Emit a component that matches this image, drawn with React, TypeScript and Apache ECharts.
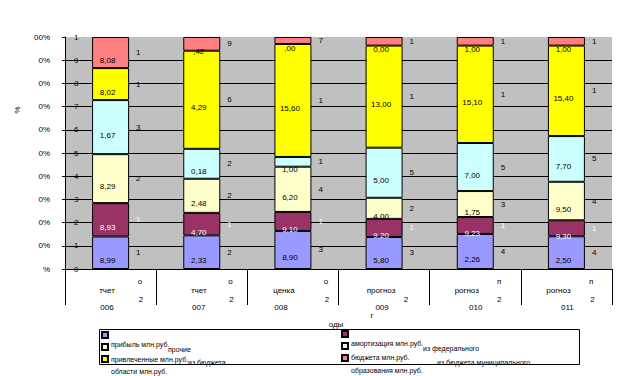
import React, { useEffect, useRef } from 'react';
import * as echarts from 'echarts';

const FONT = '"Liberation Sans", Arial, sans-serif';

// Categories (full meaning) and the fragments actually shown under each bar
const categories = ['отчет 2006', 'отчет 2007', 'оценка 2008', 'прогноз 2009', 'прогноз 2010', 'прогноз 2011'];
const catNameText = ['тчет', 'тчет', 'ценка', 'прогноз', 'рогноз', 'рогноз'];
const catYearText = ['006', '007', '008', '009', '010', '011'];
const catTopText = ['о', 'о', 'о', ' ', 'п', 'п'];
const catMidText = ['2', '2', '2', '2', '2', '2'];

// Series names (bottom to top)
const seriesNames = [
  'прибыль млн.руб.',
  'амортизация млн.руб.',
  'привлеченные млн.руб.',
  'из федерального бюджета млн.руб.',
  'из бюджета области млн.руб.',
  'из бюджета муниципального образования млн.руб.',
];

// Shares, % of each bar
const profit = [14.0, 14.5, 16.4, 13.8, 15.1, 14.1];
const amortization = [14.4, 9.7, 8.2, 7.8, 7.3, 6.9];
const attracted = [21.1, 14.7, 19.5, 9.1, 11.2, 16.6];
const federal = [23.3, 12.9, 4.2, 21.6, 20.7, 19.7];
const regional = [13.8, 42.3, 48.7, 44.0, 42.0, 39.0];
const municipal = [13.4, 5.9, 3.0, 3.7, 3.7, 3.7];

// Label texts shown inside the segments
const profitLbl = ['8,99', '2,33', '8,90', '5,80', '2,26', '2,50'];
const amortizationLbl = ['8,93', '4,70', '9,10', '9,20', '9,23', '9,30'];
const attractedLbl = ['8,29', '2,48', '6,20', '4,00', '1,75', '9,50'];
const federalLbl = ['1,67', '0,18', '1,00', '5,00', '7,00', '7,70'];
const regionalLbl = ['8,02', '4,29', '15,60', '13,00', '15,10', '15,40'];
const municipalLbl = ['8,08', ',42', ',00', '0,00', '1,00', '1,00'];

// Label texts shown to the right of the segments
const profitR = ['1', '2', '3', '3', '4', '4'];
const amortizationR = ['1', '1', '1', '1', '1', '1'];
const attractedR = ['2', '2', '4', '2', '3', '4'];
const federalR = ['3', '2', '1', '5', '5', '5'];
const regionalR = ['1', '6', '1', '1', '1', '1'];
const municipalR = ['1', '9', '7', '1', '1', '1'];

// Y tick labels (value 0..100 step 10)
const yOuterLabels = ['%', '0%', '0%', '0%', '0%', '0%', '0%', '0%', '0%', '0%', '00%'];
const yInnerLabels = ['0', '1', '2', '3', '4', '5', '6', '7', '8', '9', '1'];

// Legend texts (as displayed)
const legendTexts = [
  'прибыль млн.руб.',
  'прочие',
  'привлеченные млн.руб.',
  'из бюджета',
  'области млн.руб.',
  'амортизация млн.руб.',
  'из федерального',
  'бюджета млн.руб.',
  'из бюджета муниципального',
  'образования млн.руб.',
];

// ---- layout constants ----
const legendTextPos = [
  [111, 344], [168, 349], [111, 359], [188, 362], [111, 371],
  [351, 343], [423, 348], [351, 357], [437, 362], [351, 370],
];
const nameDx = [-3.6, -3, -9, -3, -8.5, -8];
const yearDx = [-3.6, -3, -12, -2, 0.5, 1];
const topDx = [29.4, 28.7, 33, 0, 24, 24.7];
const midDx = [30.4, 29.7, 34, 22, 24, 26];

const colors = ['#9999FF', '#993366', '#FFFFCC', '#CCFFFF', '#FFFF00', '#FF8080'];

const values = [profit, amortization, attracted, federal, regional, municipal];
const innerLabels = [profitLbl, amortizationLbl, attractedLbl, federalLbl, regionalLbl, municipalLbl];
const rightLabels = [profitR, amortizationR, attractedR, federalR, regionalR, municipalR];

function pad(d: number) {
  return d >= 0 ? [0, 0, 0, 2 * d] : [0, -2 * d, 0, 0];
}

function buildOption() {
  const richA: any = {};
  const richB: any = {};
  for (let i = 0; i < categories.length; i++) {
    richA['n' + i] = { fontSize: 8, fontFamily: FONT, color: '#000', lineHeight: 17, padding: pad(nameDx[i]) };
    richA['y' + i] = { fontSize: 8, fontFamily: FONT, color: '#000', lineHeight: 17, padding: pad(yearDx[i]) };
    richB['t' + i] = { fontSize: 8, fontFamily: FONT, color: '#000', lineHeight: 18, padding: pad(topDx[i]) };
    richB['m' + i] = { fontSize: 8, fontFamily: FONT, color: '#000', lineHeight: 18, padding: pad(midDx[i]) };
  }

  const mainSeries = values.map((data, i) => ({
    name: seriesNames[i],
    type: 'bar',
    stack: 'a',
    barWidth: 37,
    barGap: '-100%',
    data,
    itemStyle: { color: colors[i], borderColor: '#000', borderWidth: 1 },
    label: {
      show: true,
      position: 'inside',
      offset: [-3, 8],
      formatter: (p: any) => innerLabels[i][p.dataIndex],
      color: i === 1 ? '#fff' : '#000',
      fontSize: 8,
      fontFamily: FONT,
      textBorderWidth: 0,
    },
  }));

  const overlaySeries = values.map((data, i) => ({
    name: 'r' + i,
    type: 'bar',
    stack: 'b',
    barWidth: 37,
    barGap: '-100%',
    data,
    silent: true,
    itemStyle: { color: 'rgba(0,0,0,0)', borderWidth: 0 },
    label: {
      show: true,
      position: 'right',
      distance: 7,
      formatter: (p: any) => rightLabels[i][p.dataIndex],
      color: i === 1 ? '#fff' : '#000',
      fontSize: 8,
      fontFamily: FONT,
      textBorderWidth: 0,
    },
  }));

  const legendCommon = {
    orient: 'vertical',
    itemWidth: 6,
    itemHeight: 6,
    itemGap: 4,
    icon: 'rect',
    selectedMode: false,
    formatter: () => '',
    textStyle: { fontSize: 6, lineHeight: 7, fontFamily: FONT },
    padding: 0,
  };

  const graphics: any[] = [
    {
      type: 'rect',
      shape: { x: 99.5, y: 329.5, width: 480, height: 35 },
      style: { fill: 'none', stroke: '#000', lineWidth: 1 },
      z: 1,
    },
    ...legendTexts.map((t, i) => ({
      type: 'text',
      x: legendTextPos[i][0],
      y: legendTextPos[i][1],
      style: { text: t, fontSize: 7, fontFamily: FONT, fill: '#000', align: 'left', verticalAlign: 'middle' },
      z: 10,
    })),
    {
      type: 'text', x: 336, y: 324,
      style: { text: 'оды', fontSize: 8, fontFamily: FONT, fill: '#000', align: 'center', verticalAlign: 'middle' },
    },
    {
      type: 'text', x: 372, y: 315,
      style: { text: 'г', fontSize: 8, fontFamily: FONT, fill: '#000', align: 'center', verticalAlign: 'middle' },
    },
    {
      type: 'text', x: 17, y: 110, rotation: Math.PI / 2,
      style: { text: '%', fontSize: 8, fontFamily: FONT, fill: '#000', align: 'center', verticalAlign: 'middle' },
    },
  ];

  return {
    animation: false,
    backgroundColor: '#fff',
    textStyle: { fontFamily: FONT },
    grid: {
      left: 65,
      right: 12,
      top: 37,
      bottom: 107,
      show: true,
      backgroundColor: '#C0C0C0',
      borderWidth: 0,
    },
    legend: [
      { ...legendCommon, data: [seriesNames[0], seriesNames[2], seriesNames[4]], left: 101, top: 331 },
      { ...legendCommon, data: [seriesNames[1], seriesNames[3], seriesNames[5]], left: 341, top: 330 },
    ],
    xAxis: [
      {
        type: 'category',
        data: categories,
        boundaryGap: true,
        position: 'bottom',
        axisLine: { show: true, lineStyle: { color: '#000', width: 1 } },
        axisTick: { show: true, length: 36, interval: 0, lineStyle: { color: '#000', width: 1 } },
        splitLine: { show: false },
        axisLabel: {
          interval: 0,
          margin: 13,
          formatter: (_v: string, i: number) => `{n${i}|${catNameText[i]}}\n{y${i}|${catYearText[i]}}`,
          rich: richA,
        },
      },
      {
        type: 'category',
        data: categories,
        boundaryGap: true,
        position: 'bottom',
        axisLine: { show: false },
        axisTick: { show: false },
        splitLine: { show: false },
        axisLabel: {
          interval: 0,
          margin: 3,
          formatter: (_v: string, i: number) => `{t${i}|${catTopText[i]}}\n{m${i}|${catMidText[i]}}`,
          rich: richB,
        },
      },
    ],
    yAxis: [
      {
        type: 'value',
        min: 0,
        max: 100,
        interval: 10,
        position: 'left',
        axisLine: { show: true, lineStyle: { color: '#000', width: 1 } },
        axisTick: { show: true, length: 3, lineStyle: { color: '#000' } },
        splitLine: { show: true, showMaxLine: false, lineStyle: { color: '#000', width: 1 } },
        axisLabel: {
          formatter: (v: number) => yOuterLabels[Math.round(v / 10)],
          margin: 15,
          padding: [17, 0, 0, 0],
          color: '#000',
          fontSize: 8,
          fontFamily: FONT,
        },
      },
      {
        type: 'value',
        min: 0,
        max: 100,
        interval: 10,
        position: 'left',
        axisLine: { show: false },
        axisTick: { show: false },
        splitLine: { show: false },
        axisLabel: {
          inside: true,
          margin: 9,
          formatter: (v: number) => yInnerLabels[Math.round(v / 10)],
          color: '#000',
          fontSize: 8,
          fontFamily: FONT,
        },
      },
    ],
    series: [...mainSeries, ...overlaySeries],
    graphic: graphics,
  };
}

export default function App() {
  const ref = useRef<HTMLDivElement>(null);
  useEffect(() => {
    if (!ref.current) return;
    const chart = echarts.init(ref.current, null, { renderer: 'svg' });
    chart.setOption(buildOption() as any);
    return () => chart.dispose();
  }, []);
  return (
    <div
      ref={ref}
      style={{ position: 'fixed', left: 0, top: 0, width: 624, height: 376, background: '#fff' }}
    />
  );
}
